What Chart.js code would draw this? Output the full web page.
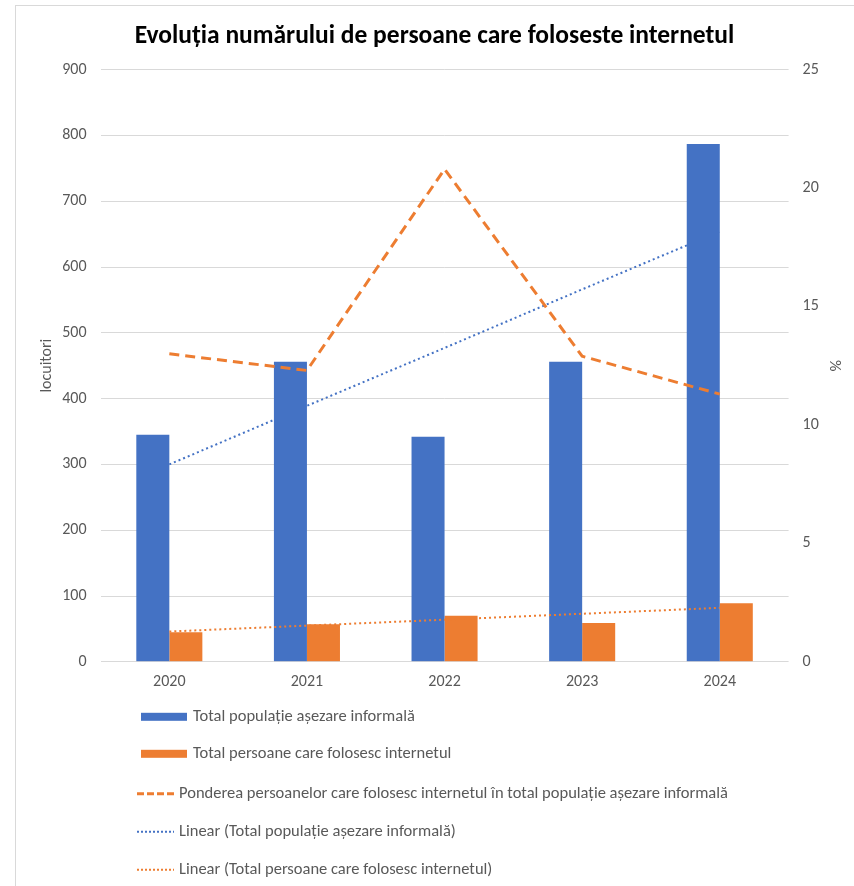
<!DOCTYPE html>
<html>
<head>
<meta charset="utf-8">
<script src="https://cdn.jsdelivr.net/npm/chart.js@4"></script>
<style>
  html, body { margin: 0; padding: 0; background: #fff; }
  #wrap { position: relative; width: 854px; height: 886px; overflow: hidden; }
  #frame { position: absolute; left: 15px; top: 5px; width: 900px; height: 950px; border: 1px solid #d9d9d9; }
  canvas { position: absolute; left: 0; top: 0; }
</style>
</head>
<body>
<div id="wrap">
  <div id="frame"></div>
  <canvas id="chart" width="854" height="886"></canvas>
</div>
<script>
const years = ['2020', '2021', '2022', '2023', '2024'];
const populatie = [345, 456, 342, 456, 787];
const persoane = [45, 57, 70, 59, 89];
const pondere = [13.0, 12.3, 20.8, 12.9, 11.3];
// trend lines
const trendPopulatie = [300, 389, 477, 566, 654];
const trendPersoane = [46, 55, 64, 73, 82];

const blue = '#4472C4';
const orange = '#ED7D31';
const grey = '#595959';
const fontFamily = 'Carlito, Lato, sans-serif';

// draws the legend as a vertical list under the x axis
const bottomLegend = {
  id: 'bottomLegend',
  afterDraw(chart) {
    const ctx = chart.ctx;
    const base = chart.chartArea.bottom;
    const rows = [55, 92, 132, 170, 208];
    ctx.save();
    ctx.font = '16.5px ' + fontFamily;
    ctx.textBaseline = 'middle';
    chart.data.datasets.forEach((ds, i) => {
      const y = base + rows[i];
      let textX;
      if (ds.type === 'bar') {
        ctx.fillStyle = ds.backgroundColor;
        ctx.fillRect(141, y - 4, 46, 8);
        textX = 193;
      } else {
        ctx.strokeStyle = ds.borderColor;
        ctx.lineWidth = ds.borderWidth;
        ctx.setLineDash(ds.legendDash);
        ctx.beginPath();
        ctx.moveTo(137, y);
        ctx.lineTo(174, y);
        ctx.stroke();
        ctx.setLineDash([]);
        textX = 179;
      }
      ctx.fillStyle = grey;
      ctx.fillText(ds.label, textX, y);
    });
    ctx.restore();
  }
};

new Chart(document.getElementById('chart'), {
  data: {
    labels: years,
    datasets: [
      {
        type: 'bar',
        label: 'Total populație așezare informală',
        data: populatie,
        backgroundColor: blue,
        yAxisID: 'y',
        order: 2,
        barPercentage: 1,
        categoryPercentage: 0.48
      },
      {
        type: 'bar',
        label: 'Total persoane care folosesc internetul',
        data: persoane,
        backgroundColor: orange,
        yAxisID: 'y',
        order: 3,
        barPercentage: 1,
        categoryPercentage: 0.48
      },
      {
        type: 'line',
        label: 'Ponderea persoanelor care folosesc internetul în total populație așezare informală',
        data: pondere,
        borderColor: orange,
        borderWidth: 3,
        borderDash: [10, 6],
        legendDash: [7, 3],
        pointRadius: 0,
        fill: false,
        tension: 0,
        yAxisID: 'y1',
        order: 0
      },
      {
        type: 'line',
        label: 'Linear (Total populație așezare informală)',
        data: trendPopulatie,
        borderColor: blue,
        borderWidth: 2,
        borderDash: [2, 3],
        legendDash: [2, 2],
        pointRadius: 0,
        fill: false,
        yAxisID: 'y',
        order: 4
      },
      {
        type: 'line',
        label: 'Linear (Total persoane care folosesc internetul)',
        data: trendPersoane,
        borderColor: orange,
        borderWidth: 2,
        borderDash: [2, 3],
        legendDash: [2, 2],
        pointRadius: 0,
        fill: false,
        yAxisID: 'y',
        order: 1
      }
    ]
  },
  options: {
    responsive: false,
    animation: false,
    layout: { padding: { left: 19, right: 4, top: 0, bottom: 191 } },
    plugins: {
      legend: { display: false },
      tooltip: { enabled: false },
      title: {
        display: true,
        text: 'Evoluția numărului de persoane care foloseste internetul',
        color: '#000',
        font: { family: fontFamily, size: 25.5, weight: 'bold' },
        padding: { top: 21, bottom: 18 }
      }
    },
    scales: {
      x: {
        grid: { display: false },
        border: { display: false },
        ticks: { color: grey, font: { family: fontFamily, size: 16 }, padding: 3 }
      },
      y: {
        position: 'left',
        min: 0,
        max: 900,
        ticks: { stepSize: 100, color: grey, font: { family: fontFamily, size: 16 }, padding: 14 },
        grid: { color: '#d9d9d9', lineWidth: 1, drawTicks: false },
        border: { display: false },
        title: { display: true, text: 'locuitori', color: grey, font: { family: fontFamily, size: 16 }, padding: { top: 18, bottom: -8 } }
      },
      y1: {
        position: 'right',
        min: 0,
        max: 25,
        ticks: { stepSize: 5, color: grey, font: { family: fontFamily, size: 16 }, padding: 6 },
        grid: { display: false },
        border: { display: false },
        title: { display: true, text: '%', color: grey, font: { family: fontFamily, size: 16 }, padding: { top: 6, bottom: 0 } }
      }
    }
  },
  plugins: [bottomLegend]
});
</script>
</body>
</html>
